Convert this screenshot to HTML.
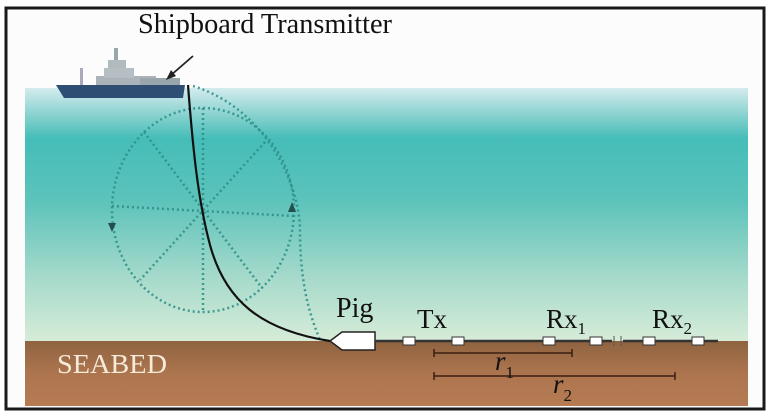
<!DOCTYPE html>
<html><head><style>
body{margin:0;background:#fff;}
svg{display:block;}
text{font-family:"Liberation Serif",serif;}
</style></head><body>
<svg width="775" height="418" viewBox="0 0 775 418">
<defs>
<linearGradient id="w" x1="0" y1="0" x2="0" y2="1">
<stop offset="0" stop-color="#d4ecee"/>
<stop offset="0.1" stop-color="#8dd3d1"/>
<stop offset="0.2" stop-color="#45bdb8"/>
<stop offset="0.45" stop-color="#5dc3bb"/>
<stop offset="0.75" stop-color="#a6dacb"/>
<stop offset="1" stop-color="#d6ecd8"/>
</linearGradient>
<linearGradient id="s" x1="0" y1="0" x2="0" y2="1">
<stop offset="0" stop-color="#8f6340"/>
<stop offset="0.5" stop-color="#ad754f"/>
<stop offset="1" stop-color="#b67b53"/>
</linearGradient>
</defs>
<rect x="6" y="8" width="758" height="401" fill="#fcfcfc" stroke="#1a1a1a" stroke-width="3"/>
<rect x="25" y="88" width="723" height="253" fill="url(#w)"/>
<rect x="25" y="341" width="723" height="65" fill="url(#s)"/>
<!-- ship -->
<rect x="114" y="48" width="4" height="38" fill="#9aa6ad"/>
<rect x="108" y="60" width="18" height="10" fill="#b0babf"/>
<rect x="80" y="68" width="3" height="18" fill="#aab"/>
<rect x="96" y="76" width="60" height="10" fill="#a9b3b8"/>
<rect x="104" y="68" width="30" height="10" fill="#b5bec2"/>
<rect x="140" y="78" width="40" height="8" fill="#9aa6ad"/>
<polygon points="56,85 185,85 183,98 64,98" fill="#2e4f73"/>
<!-- arrow -->
<line x1="193" y1="56" x2="170" y2="76" stroke="#222" stroke-width="1.8"/>
<polygon points="166,80 171,70 176,76" fill="#222"/>
<!-- dotted circle -->
<g fill="none" stroke="#2a8e86" stroke-width="2.5" stroke-dasharray="2 3" opacity="0.85">
<ellipse cx="203" cy="210" rx="91" ry="102"/>
<line x1="203" y1="108" x2="203" y2="312"/>
<line x1="112" y1="206" x2="294" y2="216"/>
<line x1="144" y1="132" x2="262" y2="288"/>
<line x1="265" y1="142" x2="140" y2="280"/>
<path d="M193,86 C270,110 300,190 300,230 C300,290 312,320 320,340"/>
</g>
<polygon points="108,223 116,223 112,232" fill="#22504c"/>
<polygon points="288,212 296,212 292,202" fill="#22504c"/>
<!-- cable -->
<path d="M188,85 C193,150 198,200 210,245 C225,300 260,330 330,341" fill="none" stroke="#111" stroke-width="2.2"/>
<!-- pig -->
<path d="M330,341 L342,332 L375,332 L375,350 L342,350 Z" fill="#fff" stroke="#222" stroke-width="1.5"/>
<line x1="375" y1="341" x2="612" y2="341" stroke="#333" stroke-width="2.5"/>
<line x1="623" y1="341" x2="718" y2="341" stroke="#333" stroke-width="2.5"/>
<line x1="614" y1="336" x2="614" y2="346" stroke="#555" stroke-width="1"/>
<line x1="621" y1="336" x2="621" y2="346" stroke="#555" stroke-width="1"/>
<g fill="#fff" stroke="#333" stroke-width="1">
<rect x="403" y="337" width="12" height="8"/>
<rect x="452" y="337" width="12" height="8"/>
<rect x="543" y="337" width="12" height="8"/>
<rect x="590" y="337" width="12" height="8"/>
<rect x="643" y="337" width="12" height="8"/>
<rect x="692" y="337" width="12" height="8"/>
</g>
<g stroke="#3a1e12" stroke-width="1.5">
<line x1="434" y1="353" x2="572" y2="353"/>
<line x1="434" y1="349" x2="434" y2="357"/><line x1="572" y1="349" x2="572" y2="357"/>
<line x1="434" y1="376" x2="675" y2="376"/>
<line x1="434" y1="372" x2="434" y2="380"/><line x1="675" y1="372" x2="675" y2="380"/>
</g>
<text x="138" y="33" font-size="29" fill="#111" textLength="254" lengthAdjust="spacingAndGlyphs">Shipboard Transmitter</text>
<text x="57" y="373" font-size="27" fill="#f6ead8" textLength="110" lengthAdjust="spacingAndGlyphs">SEABED</text>
<text x="336" y="317" font-size="28" fill="#111">Pig</text>
<text x="417" y="328" font-size="27" fill="#111">Tx</text>
<text x="546" y="328" font-size="27" fill="#111">Rx<tspan font-size="17" dy="6">1</tspan></text>
<text x="652" y="328" font-size="27" fill="#111">Rx<tspan font-size="17" dy="6">2</tspan></text>
<text x="495" y="370" font-size="27" font-style="italic" fill="#111">r<tspan font-size="17" font-style="normal" dy="8">1</tspan></text>
<text x="553" y="393" font-size="27" font-style="italic" fill="#111">r<tspan font-size="17" font-style="normal" dy="8">2</tspan></text>
</svg>
</body></html>
